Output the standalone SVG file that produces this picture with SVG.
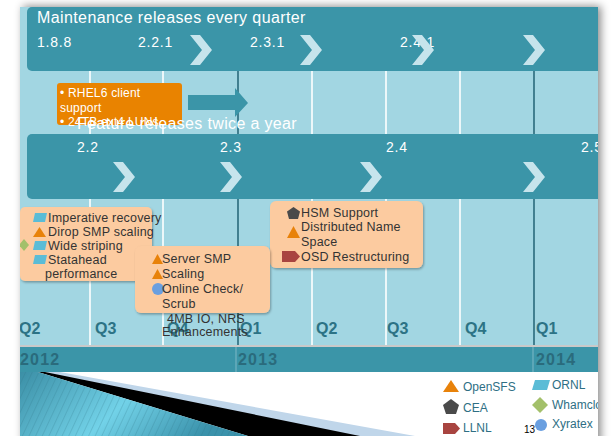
<svg xmlns="http://www.w3.org/2000/svg" width="613" height="436" viewBox="0 0 613 436">
<style>
.t{font-family:"Liberation Sans",Arial,sans-serif}
.w{fill:#ffffff}
.band{fill:#3b95a8}
.chev{fill:#c6e4ec}
.ver{font-size:14px;letter-spacing:0.8px;fill:#ffffff}
.q{font-size:16px;font-weight:bold;fill:#2c7385}
.yr{font-size:16px;font-weight:bold;letter-spacing:1.2px;fill:#2a6b7c}
.peach{fill:#fccba0;filter:url(#sh)}
.it{font-size:12.5px;letter-spacing:0.2px;fill:#333333}
.lg{font-size:12px;fill:#2e6f84}
.wl{stroke:#ffffff;stroke-width:1.6}
.dl{stroke:#2a6a7c;stroke-width:1.6}
.tri{fill:#e8820a}
.orn{fill:#5bbcd6}
</style>
<defs>
<filter id="ps" x="-5%" y="-5%" width="110%" height="110%"><feDropShadow dx="3" dy="-1" stdDeviation="4" flood-color="#000" flood-opacity="0.45"/></filter>
<filter id="sh" x="-10%" y="-10%" width="120%" height="130%"><feDropShadow dx="1" dy="1.5" stdDeviation="1.2" flood-color="#000" flood-opacity="0.3"/></filter>
<clipPath id="pc"><rect x="20" y="7" width="578" height="430"/></clipPath>
<linearGradient id="tg" x1="0" y1="0" x2="1" y2="0.3">
<stop offset="0" stop-color="#3b8fa6"/><stop offset="0.55" stop-color="#72d2e8"/><stop offset="1" stop-color="#3a92ab"/>
</linearGradient>
<pattern id="hatch" width="6" height="6" patternUnits="userSpaceOnUse" patternTransform="rotate(25)">
<line x1="0" y1="0" x2="0" y2="6" stroke="#2a6f84" stroke-width="0.8" opacity="0.55"/>
</pattern>
<polygon id="chv" points="0,0 10,0 22,15 10,30 0,30 12,15"/>
</defs>
<rect x="0" y="0" width="613" height="436" fill="#ffffff"/>
<rect x="20" y="7" width="578" height="440" fill="#ffffff" filter="url(#ps)"/>
<g clip-path="url(#pc)">
<rect x="20" y="7" width="578" height="339" fill="#a2d6e2"/>
<g id="grid">
<line class="wl" x1="90" y1="71" x2="90" y2="345"/>
<line class="wl" x1="163" y1="71" x2="163" y2="345"/>
<line class="dl" x1="238" y1="71" x2="238" y2="345"/>
<line class="wl" x1="312" y1="71" x2="312" y2="345"/>
<line class="wl" x1="386" y1="71" x2="386" y2="345"/>
<line class="wl" x1="460" y1="71" x2="460" y2="345"/>
<line class="dl" x1="534" y1="71" x2="534" y2="345"/>
</g>
<g id="maint-band">
<rect class="band" x="27" y="7" width="600" height="64" rx="5"/>
<text class="t w" x="37" y="23" font-size="16" letter-spacing="0.4">Maintenance releases every quarter</text>
<text class="t ver" x="37" y="47">1.8.8</text>
<text class="t ver" x="138" y="47">2.2.1</text>
<text class="t ver" x="250" y="47">2.3.1</text>
<text class="t ver" x="400" y="47">2.4.1</text>
<use href="#chv" class="chev" x="190" y="35"/>
<use href="#chv" class="chev" x="300" y="35"/>
<use href="#chv" class="chev" x="412" y="35"/>
<use href="#chv" class="chev" x="523" y="35"/>
</g>
<g id="rhel">
<rect x="57" y="83" width="125" height="42" rx="3" fill="#e98300"/>
<text class="t w" font-size="12" letter-spacing="0.2"><tspan x="60" y="97">• RHEL6 client</tspan><tspan x="60" y="112">support</tspan><tspan x="60" y="126">• 24TB ext4 LUNs</tspan></text>
</g>
<g id="connectors">
<polygon points="188,95 235,95 235,88 248,103 235,117 235,110 188,110" fill="#3b95a8"/>
</g>
<text class="t w" x="77" y="129" font-size="16" letter-spacing="0.35">Feature releases twice a year</text>
<g id="feature-band">
<rect class="band" x="27" y="134" width="600" height="65" rx="5"/>
<text class="t ver" x="77" y="152">2.2</text>
<text class="t ver" x="220" y="152">2.3</text>
<text class="t ver" x="386" y="152">2.4</text>
<text class="t ver" x="581" y="152">2.5</text>
<use href="#chv" class="chev" x="113" y="162"/>
<use href="#chv" class="chev" x="220" y="162"/>
<use href="#chv" class="chev" x="360" y="162"/>
<use href="#chv" class="chev" x="523" y="162"/>
</g>
<g id="quarters">
<text class="t q" x="19" y="334">Q2</text>
<text class="t q" x="95" y="334">Q3</text>
<text class="t q" x="167" y="334">Q4</text>
<text class="t q" x="240" y="334">Q1</text>
<text class="t q" x="316" y="334">Q2</text>
<text class="t q" x="387" y="334">Q3</text>
<text class="t q" x="465" y="334">Q4</text>
<text class="t q" x="536" y="334">Q1</text>
</g>
<g id="box1">
<rect class="peach" x="20" y="207" width="132" height="74" rx="5"/>
<polygon class="orn" points="33,222 35,213 47,213 45,222"/>
<polygon class="tri" points="33,237 39.5,227 46,237"/>
<polygon points="24,239 29,245 24,251 19,245" fill="#a3c06a"/>
<polygon class="orn" points="33,250 35,241 47,241 45,250"/>
<polygon class="orn" points="33,264 35,255 47,255 45,264"/>
<text class="t it"><tspan x="48" y="222">Imperative recovery</tspan><tspan x="48" y="236">Dirop SMP scaling</tspan><tspan x="48" y="250">Wide striping</tspan><tspan x="48" y="264">Statahead</tspan><tspan x="45" y="278">performance</tspan></text>
</g>
<g id="box3">
<rect class="peach" x="270" y="201" width="153" height="67" rx="6"/>
<polygon points="293.5,207 300,211.5 298,219 289,219 287,211.5" fill="#4a4a4a"/>
<polygon class="tri" points="287,238 293.5,226 300,238"/>
<polygon points="282,251 295,251 300,256.5 295,262 282,262" fill="#a84440"/>
<text class="t it"><tspan x="301" y="217">HSM Support</tspan><tspan x="301" y="231">Distributed Name</tspan><tspan x="301" y="246">Space</tspan><tspan x="301" y="261">OSD Restructuring</tspan></text>
</g>
<g id="box2">
<rect class="peach" x="135" y="246" width="135" height="67" rx="6"/>
<polygon class="tri" points="152,264 157.5,254 163,264"/>
<polygon class="tri" points="152,279 157.5,269 163,279"/>
<circle cx="158" cy="289" r="6" fill="#6a9fe0"/>
<text class="t it"><tspan x="162" y="263">Server SMP</tspan><tspan x="162" y="278">Scaling</tspan><tspan x="162" y="293">Online Check/</tspan><tspan x="162" y="308">Scrub</tspan></text>
</g>
<text class="t it"><tspan x="167" y="323">4MB IO, NRS</tspan><tspan x="162" y="336">Enhancements</tspan></text>
<g id="years">
<rect x="20" y="345" width="578" height="2" fill="#c9c9c9"/>
<rect class="band" x="20" y="347" width="578" height="25"/>
<line x1="236" y1="347" x2="236" y2="372" stroke="#7fb8c6" stroke-width="1"/>
<line x1="533" y1="347" x2="533" y2="372" stroke="#7fb8c6" stroke-width="1"/>
<text class="t yr" x="20" y="365">2012</text>
<text class="t yr" x="238" y="365">2013</text>
<text class="t yr" x="536" y="365">2014</text>
</g>
<g id="deco">
<polygon points="45,372 60,372 415,436 300,436" fill="#c0d6ea"/>
<polygon points="38,372 45,372 360,436 248,436" fill="#000000"/>
<polygon points="20,372 38,372 248,436 20,436" fill="url(#tg)"/>
<polygon points="20,372 38,372 248,436 20,436" fill="url(#hatch)"/>
</g>
<g id="legend">
<polygon class="tri" points="443,392 451,380 459,392"/>
<text class="t lg" x="463" y="391">OpenSFS</text>
<polygon points="451,399 459,405 456,414 446,414 443,405" fill="#4a4a4a"/>
<text class="t lg" x="463" y="412">CEA</text>
<polygon points="443,423 455,423 460,428.5 455,434 443,434" fill="#a84440"/>
<text class="t lg" x="463" y="432">LLNL</text>
<polygon class="orn" points="532,390 535,380 550,380 547,390"/>
<text class="t lg" x="552" y="389">ORNL</text>
<polygon points="540,397 548,405 540,413 532,405" fill="#a3c06a"/>
<text class="t lg" x="552" y="409">Whamcloud</text>
<circle cx="541" cy="425" r="6" fill="#6a9fe0"/>
<text class="t" x="524" y="433" font-size="10" fill="#000">13</text>
<text class="t lg" x="552" y="428">Xyratex</text>
</g>
</g>
</svg>
